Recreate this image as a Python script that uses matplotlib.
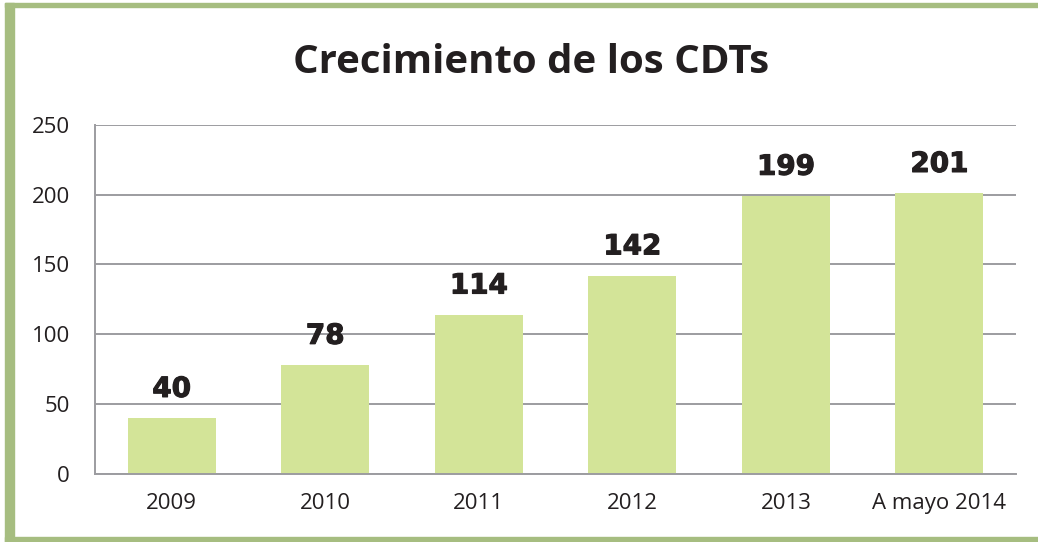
import matplotlib
matplotlib.use("Agg")
import matplotlib.pyplot as plt
import matplotlib.patheffects as pe
from matplotlib.patches import Rectangle

categories = ["2009", "2010", "2011", "2012", "2013", "A mayo 2014"]
values = [40, 78, 114, 142, 199, 201]
yticks = [0, 50, 100, 150, 200, 250]

BAR = "#d3e498"
FRAME = "#a6bd80"
GRID = "#9c9ca0"
INK = "#231f20"

fig = plt.figure(figsize=(10.38, 5.42), dpi=100)
ax = fig.add_axes([0.0915, 0.1255, 0.8875, 0.6445])

x = range(len(categories))
ax.bar(x, values, width=0.573, color=BAR, zorder=2)
for xi, v in zip(x, values):
    ax.annotate(str(v), (xi, v), xytext=(0, 21), textcoords="offset points",
                ha="center", va="center", fontsize=20, fontweight="bold",
                family="DejaVu Sans", color=INK,
                path_effects=[pe.withStroke(linewidth=0.8, foreground=INK)])

ax.set_xlim(-0.5, len(categories) - 0.5)
ax.set_ylim(0, 250)
ax.set_yticks(yticks)
ax.set_xticks(list(x))
ax.set_xticklabels(categories)
ax.yaxis.grid(True, color=GRID, lw=1.4, zorder=0)
ax.set_axisbelow(True)
ax.tick_params(length=0, labelsize=16, colors=INK)
ax.tick_params(axis="y", pad=18)
ax.tick_params(axis="x", pad=14)
for lab in ax.get_xticklabels() + ax.get_yticklabels():
    lab.set_family("Open Sans")
for s in ["top", "right"]:
    ax.spines[s].set_visible(False)
for s in ["left", "bottom"]:
    ax.spines[s].set_color(GRID)
    ax.spines[s].set_linewidth(1.4)

fig.text(0.512, 0.885, "Crecimiento de los CDTs", ha="center", va="center",
         fontsize=29, fontweight="bold", family="Open Sans", color=INK)

# green frame
fig.patches.append(Rectangle((5 / 1038, 1 - 7 / 542), 1, 4 / 542,
                             transform=fig.transFigure, color=FRAME))
fig.patches.append(Rectangle((5 / 1038, 0), 9 / 1038, 1 - 3 / 542,
                             transform=fig.transFigure, color=FRAME))
fig.patches.append(Rectangle((5 / 1038, 0), 1, 5 / 542,
                             transform=fig.transFigure, color=FRAME))

fig.savefig("out.png", dpi=100)
